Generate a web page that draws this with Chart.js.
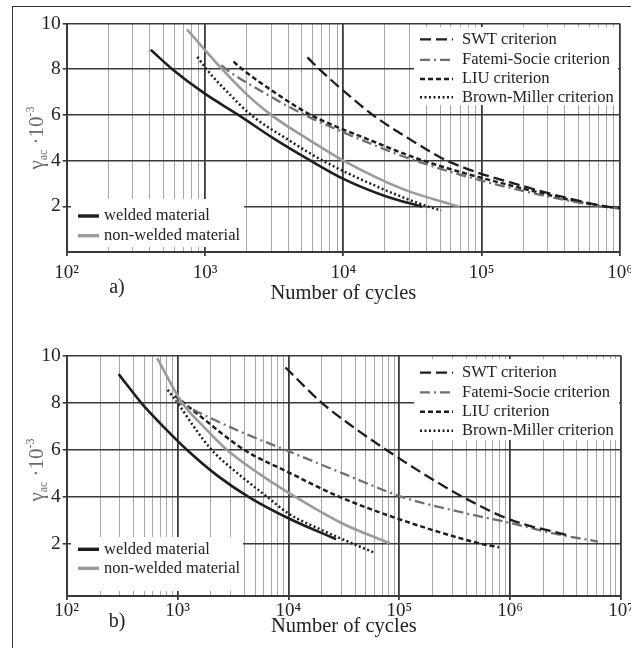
<!DOCTYPE html>
<html>
<head>
<meta charset="utf-8">
<script src="https://cdn.jsdelivr.net/npm/chart.js@4.4.1/dist/chart.umd.min.js"></script>
<style>
  html, body { margin: 0; padding: 0; background: #fff; width: 631px; height: 648px; overflow: hidden; position: relative; font-family: "Liberation Serif", serif; }
  .frame { position: absolute; left: 12px; top: 6px; width: 700px; height: 700px; border: 1.5px solid #333; }
  .box { position: absolute; left: 0; width: 631px; }
  #boxA { top: 0; height: 320px; }
  #boxB { top: 324px; height: 324px; }
  .ytitle { position: absolute; font-size: 21px; color: #6a6a6a; white-space: nowrap; transform: translate(-50%, -50%) rotate(-90deg); }
  .ytitle sub { font-size: 12px; vertical-align: -4px; }
  .ytitle sup { font-size: 12px; vertical-align: 9px; }
  .panel { position: absolute; font-size: 20px; color: #222; transform: translate(-50%, -50%); }
</style>
</head>
<body>
<div class="frame"></div>
<div class="box" id="boxA"><canvas id="chartA" width="631" height="320"></canvas></div>
<div class="box" id="boxB"><canvas id="chartB" width="631" height="324"></canvas></div>
<div class="ytitle" style="left:37px; top:138px;">γ<sub>ac</sub> ·10<sup>-3</sup></div>
<div class="ytitle" style="left:37px; top:470px;">γ<sub>ac</sub> ·10<sup>-3</sup></div>
<div class="panel" style="left:117px; top:286px;">a)</div>
<div class="panel" style="left:117px; top:620px;">b)</div>
<script>
// series names
const seriesNames = ['welded material', 'non-welded material', 'SWT criterion',
    'Fatemi-Socie criterion', 'LIU criterion', 'Brown-Miller criterion'];

// a) [cycles, gamma_ac * 10^3]
const weldedA = [[405, 8.85], [580, 8], [985, 6.95], [1740, 6], [3170, 4.95], [5790, 4], [10000, 3.2], [20000, 2.45], [37000, 1.98]];
const nonWeldedA = [[740, 9.74], [1330, 8], [2000, 6.9], [3000, 6], [5500, 4.95], [10000, 4], [27000, 2.75], [69000, 1.98]];
const swtA = [[5500, 8.52], [6700, 8], [10500, 6.95], [16300, 6], [30000, 4.95], [56000, 4], [195000, 2.9], [780000, 2], [1000000, 1.92]];
const fatemiA = [[1313, 8.18], [1420, 8], [2700, 6.95], [5250, 6], [13000, 4.95], [33000, 4], [150000, 2.85], [720000, 2], [1000000, 1.9]];
const liuA = [[1607, 8.33], [1860, 8], [3250, 6.95], [5800, 6], [14800, 4.95], [37800, 4], [165000, 2.9], [756000, 2], [1000000, 1.93]];
const brownA = [[880, 8.54], [1025, 8], [1480, 6.95], [2150, 6], [3900, 4.95], [7100, 4], [17000, 2.9], [40300, 2], [50900, 1.82]];

// b)
const weldedB = [[294, 9.22], [470, 8], [760, 6.95], [1220, 6], [2300, 4.9], [4400, 4], [10000, 3.1], [26900, 2.21]];
const nonWeldedB = [[655, 9.9], [1100, 8], [1750, 6.95], [2800, 6], [5600, 4.95], [11600, 4], [30000, 2.9], [81800, 2.04]];
const swtB = [[9400, 9.5], [20000, 8], [39000, 6.95], [76500, 6], [170000, 4.95], [376000, 4], [1000000, 3.04], [3500000, 2.35]];
const fatemiB = [[950, 8.1], [1540, 7.6], [3800, 6.75], [10000, 5.95], [33000, 4.95], [107000, 4], [330000, 3.4], [1000000, 2.9], [2500000, 2.45], [6200000, 2.11]];
const liuB = [[950, 8.3], [1540, 7.5], [4000, 6], [10000, 5.05], [29200, 4], [100000, 3.06], [300000, 2.35], [570000, 2], [794000, 1.87]];
const brownB = [[814, 8.55], [1000, 8], [1420, 6.95], [2030, 6], [3600, 4.95], [6460, 4], [10000, 3.3], [20000, 2.6], [39000, 2], [59600, 1.64]];

// tick labels
const decadeLabelsA = ['10²', '10³', '10⁴', '10⁵', '10⁶'];
const decadeLabelsB = ['10²', '10³', '10⁴', '10⁵', '10⁶', '10⁷'];
const yTickValues = [2, 4, 6, 8, 10];

const DARK = '#3a3a3a';
const LIGHT = '#a8a8a8';
const FONT = '"Liberation Serif", "Times New Roman", serif';

// line looks, same order as seriesNames
const lineStyles = [
    {color: '#1e1e1e', width: 2.6, dash: []},
    {color: '#9b9b9b', width: 2.6, dash: []},
    {color: '#1e1e1e', width: 2.3, dash: [11, 5]},
    {color: '#6e6e6e', width: 2.3, dash: [10, 4, 2, 4]},
    {color: '#1e1e1e', width: 2.5, dash: [5, 3]},
    {color: '#1e1e1e', width: 2.5, dash: [2, 2.5]},
];

function isDecade(v) {
    const l = Math.log10(v);
    return Math.abs(l - Math.round(l)) < 1e-9;
}

// draws the two white legend boxes on top of the grid, under the curves
const legendBoxes = {
    id: 'legendBoxes',
    beforeDatasetsDraw(chart, args, opts) {
        const ctx = chart.ctx;
        opts.boxes.forEach(b => {
            ctx.save();
            ctx.fillStyle = '#fff';
            ctx.fillRect(b.x0, b.y0, b.x1 - b.x0, b.y1 - b.y0);
            ctx.font = '16.5px ' + FONT;
            ctx.textBaseline = 'middle';
            b.items.forEach((idx, i) => {
                const ds = chart.data.datasets[idx];
                const y = b.rows[i];
                ctx.beginPath();
                ctx.strokeStyle = ds.borderColor;
                ctx.lineWidth = b.swatchWidth || ds.borderWidth;
                ctx.setLineDash(ds.borderDash);
                ctx.moveTo(b.sx0, y);
                ctx.lineTo(b.sx1, y);
                ctx.stroke();
                ctx.setLineDash([]);
                ctx.fillStyle = '#222';
                ctx.fillText(ds.label, b.tx, y);
            });
            ctx.restore();
        });
    }
};

function makeChart(id, series, o) {
    const datasets = series.map((pts, i) => ({
        label: seriesNames[i],
        data: pts.map(([x, y]) => ({x, y})),
        borderColor: lineStyles[i].color,
        borderWidth: lineStyles[i].width,
        borderDash: lineStyles[i].dash,
        pointRadius: 0,
        fill: false,
        cubicInterpolationMode: 'monotone',
    }));

    return new Chart(document.getElementById(id), {
        type: 'line',
        data: {datasets},
        plugins: [legendBoxes],
        options: {
            responsive: false,
            animation: false,
            layout: {padding: {left: 0, right: o.padRight, top: o.padTop, bottom: 0}},
            plugins: {
                legend: {display: false},
                tooltip: {enabled: false},
                legendBoxes: {boxes: o.boxes},
            },
            scales: {
                x: {
                    type: 'logarithmic',
                    min: 100,
                    max: o.xMax,
                    afterBuildTicks(scale) {
                        const ticks = [];
                        for (let e = 2; e < Math.log10(o.xMax); e++) {
                            for (let m = 1; m < 10; m++) ticks.push({value: m * Math.pow(10, e)});
                        }
                        ticks.push({value: o.xMax});
                        scale.ticks = ticks;
                    },
                    afterFit(scale) {
                        scale.height = o.xHeight;
                        scale.paddingLeft = 0;
                        scale.paddingRight = 0;
                    },
                    grid: {
                        color: c => isDecade(c.tick.value) ? DARK : LIGHT,
                        lineWidth: c => isDecade(c.tick.value) ? 1.8 : 1,
                        tickColor: c => isDecade(c.tick.value) ? DARK : 'rgba(0,0,0,0)',
                        tickLength: 4,
                    },
                    border: {color: DARK, width: 2},
                    ticks: {
                        autoSkip: false,
                        maxRotation: 0,
                        padding: o.xTickPad,
                        color: '#222',
                        font: {family: FONT, size: 19},
                        callback: v => isDecade(v) ? o.decadeLabels[Math.round(Math.log10(v)) - 2] : '',
                    },
                    title: {
                        display: true,
                        text: 'Number of cycles',
                        color: '#222',
                        font: {family: FONT, size: 20.5},
                        padding: {top: 0, bottom: o.titlePad},
                    },
                },
                y: {
                    min: o.yMin,
                    max: 10,
                    afterBuildTicks(scale) {
                        scale.ticks = yTickValues.map(v => ({value: v}));
                    },
                    afterFit(scale) {
                        scale.width = 66.7;
                        scale.paddingTop = 0;
                        scale.paddingBottom = 0;
                    },
                    grid: {color: DARK, lineWidth: 1.6, tickLength: 4},
                    border: {color: DARK, width: 2},
                    ticks: {
                        padding: 2,
                        color: '#222',
                        font: {family: FONT, size: 19.5},
                    },
                },
            },
        },
    });
}

makeChart('chartA', [weldedA, nonWeldedA, swtA, fatemiA, liuA, brownA], {
    xMax: 1e6, yMin: 0, padTop: 23.5, padRight: 11, xHeight: 68,
    xTickPad: 6, titlePad: 14, decadeLabels: decadeLabelsA,
    boxes: [
        {x0: 414, y0: 27, x1: 618, y1: 105, items: [2, 3, 4, 5], rows: [39.3, 59.8, 79, 97.3],
            sx0: 420, sx1: 453, tx: 462},
        {x0: 71, y0: 199, x1: 244, y1: 247, items: [0, 1], rows: [216, 235.7],
            sx0: 78, sx1: 99, tx: 104, swatchWidth: 3.4},
    ],
});

makeChart('chartB', [weldedB, nonWeldedB, swtB, fatemiB, liuB, brownB], {
    xMax: 1e7, yMin: -0.2, padTop: 31.7, padRight: 10, xHeight: 52,
    xTickPad: 0, titlePad: 9, decadeLabels: decadeLabelsB,
    boxes: [
        {x0: 414, y0: 35, x1: 619, y1: 116, items: [2, 3, 4, 5], rows: [48.7, 68.3, 87.7, 106.7],
            sx0: 420, sx1: 453, tx: 462},
        {x0: 71, y0: 213, x1: 243, y1: 267, items: [0, 1], rows: [225.3, 244.3],
            sx0: 78, sx1: 99, tx: 104, swatchWidth: 3.4},
    ],
});
</script>
</body>
</html>
